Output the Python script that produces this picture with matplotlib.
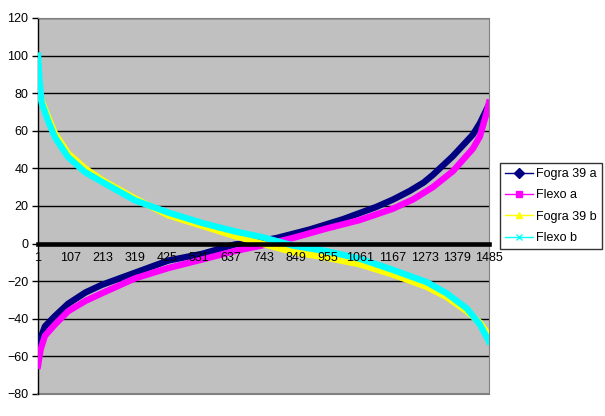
import matplotlib
matplotlib.use("Agg")
import matplotlib.pyplot as plt
from matplotlib.lines import Line2D

# values (category index -> value)
fogra_a_idx = [1, 10, 24, 57, 100, 157, 210, 320, 430, 540, 648, 737, 787, 895, 1005, 1114, 1170, 1224, 1270, 1300, 1366, 1432, 1455, 1485]
fogra_a_val = [-58, -50, -44, -38.5, -32, -26, -22, -15.5, -9, -5.5, -0.5, 1.5, 3, 7.5, 13, 19.5, 23.5, 28, 32.5, 36.5, 46.5, 58, 64, 74]

flexo_a_idx = [1, 10, 24, 57, 100, 157, 210, 320, 430, 540, 648, 737, 840, 950, 1059, 1168, 1235, 1300, 1366, 1432, 1455, 1478, 1485]
flexo_a_val = [-65, -56, -49, -43, -36, -30.5, -26.5, -18.5, -13, -8.5, -4, -1, 3, 8, 12.5, 18.5, 23.5, 30, 38.5, 50.5, 57, 70, 75]

fogra_b_idx = [1, 5, 13, 35, 57, 100, 156, 210, 320, 430, 540, 648, 737, 840, 950, 1059, 1169, 1280, 1346, 1412, 1455, 1485]
fogra_b_val = [91, 82, 76, 67, 58.5, 48, 40, 34, 24, 15, 9.5, 4, 0, -4.5, -7.5, -11, -16.5, -23, -28.5, -36, -42, -49]

flexo_b_idx = [1, 5, 13, 35, 57, 100, 156, 210, 320, 430, 540, 648, 737, 840, 950, 1059, 1169, 1280, 1346, 1412, 1455, 1485]
flexo_b_val = [100, 88, 75, 65, 56.5, 46, 38, 33, 23, 16.5, 11, 6.5, 3.5, -1, -4, -8, -14, -20.5, -26.5, -34.5, -43, -52]

series_names = ["Fogra 39 a", "Flexo a", "Fogra 39 b", "Flexo b"]
series_colors = ["#000080", "#FF00FF", "#FFFF00", "#00FFFF"]
series_markers = ["D", "s", "^", "x"]

x_ticks = list(range(1, 1486, 106))
y_ticks = list(range(-80, 121, 20))

plt.rcParams["font.family"] = ["Liberation Sans", "DejaVu Sans"]

fig = plt.figure(figsize=(6.05, 4.16), dpi=100)
ax = fig.add_axes([38 / 605, 22 / 416, 451 / 605, 376 / 416])
ax.set_facecolor("#C0C0C0")

data = [(fogra_a_idx, fogra_a_val), (flexo_a_idx, flexo_a_val),
        (fogra_b_idx, fogra_b_val), (flexo_b_idx, flexo_b_val)]
for (xs, ys), name, col in zip(data, series_names, series_colors):
    ax.plot(xs, ys, color=col, lw=4.6, solid_joinstyle="round", zorder=3, label=name)

ax.set_xlim(1, 1485)
ax.set_ylim(-80, 120)
ax.set_yticks(y_ticks)
ax.set_xticks(x_ticks)
ax.grid(axis="y", color="black", lw=1)
ax.set_axisbelow(True)
# category labels sit on top of the curves
ax.xaxis.set_zorder(6)

# category axis crosses at zero, thick black line
ax.spines["bottom"].set_position(("data", 0))
ax.spines["bottom"].set_linewidth(3.3)
ax.spines["bottom"].set_color("black")
ax.spines["bottom"].set_zorder(5)
ax.spines["left"].set_color("black")
ax.spines["left"].set_linewidth(1)
ax.spines["top"].set_color("#808080")
ax.spines["right"].set_color("#808080")
# bottom border of plot area
ax.axhline(-80, color="#808080", lw=1.5, clip_on=False)

ax.tick_params(axis="x", length=0, pad=6, labelsize=9)
ax.tick_params(axis="y", length=4, width=1, direction="out", labelsize=9, pad=3)

handles = [Line2D([0], [0], color=c, marker=m, markersize=5, lw=1, mew=1)
           for c, m in zip(series_colors, series_markers)]
leg = fig.legend(handles, series_names, loc="center left",
                 bbox_to_anchor=(500 / 605, 1 - 206 / 416), fontsize=9,
                 frameon=True, fancybox=False, edgecolor="black",
                 handlelength=2.2, handletextpad=0.3, labelspacing=0.75,
                 borderpad=0.4, borderaxespad=0)
leg.get_frame().set_linewidth(1)

fig.savefig("out.png", dpi=100)
